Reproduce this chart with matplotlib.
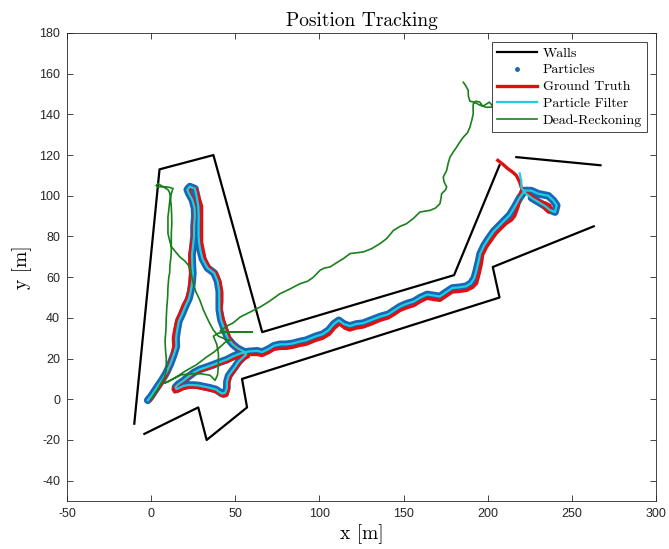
import matplotlib
matplotlib.use("Agg")
import matplotlib.pyplot as plt
from matplotlib.lines import Line2D

plt.rcParams['axes.unicode_minus'] = False

# ---------------- data ----------------
wall1_x = [-10, 5, 37, 66, 180, 207]
wall1_y = [-12, 113, 120, 33, 61, 115]
wall2_x = [-4, 28, 33, 57, 54, 207, 203, 263]
wall2_y = [-17, -4, -20, -4, 10, 50, 65, 85]
wall3_x = [217, 267]
wall3_y = [119, 115]

gt_x = [0, 1.5, 3, 5, 7, 9, 11, 12.5, 13.5, 13.2, 14, 15.3, 17, 19, 21, 22.5, 23, 23.5, 23, 23,
        24, 25, 25, 26, 26, 25, 23, 22, 24, 27, 28, 30, 30, 30, 30, 30, 31, 32, 35, 39,
        41, 42, 42, 41.5, 43, 45, 47, 50, 53, 56, 57.8,
        55, 53, 51, 49, 47, 46, 46, 45, 43, 39, 35, 31, 28, 25, 22, 19, 16, 14, 13,
        15, 18, 21, 25, 29, 33, 37, 41, 45, 49, 53, 58, 63, 66, 70, 73, 76.6, 80, 84, 88.5,
        92, 95, 98, 102, 106, 109, 112, 115, 118, 122, 126, 131, 136, 141, 145, 148, 152, 156, 160, 164,
        168, 171.6, 175, 179, 183, 187.5, 191, 193.4, 195, 196.3, 197, 199.3, 202, 205, 208, 211, 214, 216, 218, 219,
        220, 224, 228, 232, 234, 236, 237.5, 237, 234, 230, 226, 222, 220, 219, 217, 215, 212, 209, 206]
gt_y = [0, 2, 4, 6, 9, 12, 17, 21, 26, 30, 34, 38.8, 42, 46, 49, 53, 57, 62, 66, 71,
        76, 80, 85, 90, 94, 98, 101, 103, 104, 103, 100, 95, 90, 85.5, 81, 77, 73, 69, 64, 61.7,
        57.6, 52.7, 48, 44, 38.8, 34, 29, 26, 24, 22.5, 21,
        20, 18, 16, 13.5, 11, 8, 5, 2, 1.5, 3.6, 4.5, 5.2, 5.8, 6, 5.8, 5.2, 4, 3.6, 5,
        6.5, 8, 10, 12.6, 14, 15, 16, 17.5, 18.5, 20, 21, 22, 22, 21.5, 23, 24.5, 25, 25, 25.5, 26.5,
        27, 28, 29, 30, 32, 35, 37, 35, 34, 35, 35.5, 37, 38.8, 40, 42, 43.7, 45, 46, 48, 49.6,
        49, 48.6, 50.5, 52.7, 53, 53.5, 55, 57, 62, 66.8, 71, 74.8, 78, 81.5, 84, 86.4, 88, 90, 94.5, 99,
        102.6, 101, 98.6, 96.1, 93.7, 92, 93, 95.3, 96.5, 97.5, 99.5, 102, 104, 106.7, 110, 111.5, 113.3, 115.5, 117.4]

pf_x = [-2, 0, 2, 4, 6.5, 9, 11.5, 13.5, 15, 14.8, 15.5, 16.5, 18.5, 20.5, 22.5, 23.5, 24.3, 24.8, 24.5, 24.3,
        25, 25.5, 25.5, 26, 25.8, 24.5, 22.5, 21.5, 23, 26, 27, 28, 28.3, 28.2, 28.2, 28.5, 29.3, 30.5, 33.5, 37.5,
        39.5, 40.5, 40.5, 40.5, 41.5, 43.5, 45.5, 48.5, 51.5, 55, 56.5,
        54.5, 52, 50, 48, 46, 45, 45, 44, 42, 38.5, 35, 31, 28, 25, 22, 19, 16.5, 15, 14.5,
        16, 19, 22, 25.5, 29, 33, 37, 41, 45, 49, 53, 58, 63, 66, 70, 73, 76.6, 80, 84, 88,
        92, 95, 98, 102, 105.5, 108.5, 111.5, 114.5, 118, 122, 126, 131, 136, 141, 145, 148, 152, 156, 160, 164,
        168, 171.5, 175, 179, 183, 187, 190, 192, 193.2, 194.5, 195.5, 197.8, 200.5, 203.5, 207, 210, 213, 216, 219, 222,
        226, 230, 233, 236, 239, 241, 240, 237, 234, 230, 226, 222, 220, 220, 219]
pf_y = [-0.5, 1.5, 4, 6.5, 9.5, 13, 17.5, 22, 26, 30, 34, 38.5, 42, 46, 49.5, 53, 57, 62, 66, 71,
        76, 80, 85, 90, 94, 98, 101, 103, 104.5, 103.5, 100, 95, 90, 85.5, 81, 77, 73, 69, 64.5, 62,
        58, 53, 48, 44, 39, 34.5, 30, 27, 25, 23.5, 22,
        20.5, 18.5, 16, 13.8, 11.5, 8.5, 5.5, 3.2, 2.8, 4.8, 5.6, 6.3, 6.8, 7, 7, 6.5, 5.5, 5, 6,
        7.3, 9, 11, 13.2, 14.7, 15.8, 17, 18.3, 19.5, 21.2, 22.5, 23.5, 23.8, 23.2, 24.8, 26.3, 27, 27, 27.4, 28.3,
        29, 30, 31, 32, 34, 37, 38.8, 37, 36, 37, 37.4, 39, 40.6, 41.8, 44, 45.6, 47, 48, 50, 51.5,
        51, 50.5, 52.5, 54.7, 55, 55.5, 57, 59.5, 63, 67.5, 71.5, 75.5, 79, 82.5, 85.5, 88, 90.5, 94.5, 99, 102.6,
        102.5, 101, 100.5, 100, 97.7, 95.3, 92, 93, 95, 97, 99, 101.5, 104, 107, 111]

# particle cloud centres (particles shown along the filter estimate, not on the final tail)
particles_x = pf_x[:-4]
particles_y = pf_y[:-4]

dr_x = [0, 2, 4, 6, 8, 9, 9, 8.5, 8.3, 8.8, 9, 9.3, 9.8, 10, 10.5, 11, 11.2, 11.8, 12, 12,
        12, 12.3, 12.2, 12, 11.5, 11, 10, 7, 4, 3, 4, 7, 10, 13, 12, 11, 10.5, 10, 10, 10,
        11, 12, 14.5, 17, 20, 23, 24, 25, 26.5, 29, 31, 33, 35, 37, 40, 44, 47,
        44, 41, 37, 33, 27, 21, 15, 10, 8,
        13, 18, 25, 30, 35, 38, 39.5, 40, 40, 39, 37, 40, 45, 52, 60, 55, 48, 41,
        45, 48.7, 52.9, 58, 64.7, 70, 76.6, 82, 88.5, 93, 96.4, 100.4, 103, 106.3, 110, 114.2, 118.2, 122, 126.1, 131,
        136, 140, 144, 148, 151.8, 156, 159.7, 163, 165.7, 169, 171.6, 172.3, 172.6, 175, 175.6, 174, 173.6, 175.6, 176.5, 177.6,
        179.5, 181.5, 183.5, 185.5, 188, 189.4, 190.5, 191.4, 191.3, 191.4, 193, 195.4, 197, 199.4, 201, 203.4, 199, 195.5, 192, 189.4,
        188.5, 188.4, 187, 185.5]
dr_y = [0, 2.5, 5, 8, 11, 14, 20, 25, 29, 34, 40, 45, 50, 55, 60, 62, 66, 70, 74, 78,
        82, 86, 90, 94.5, 99, 101.5, 103, 104.5, 106, 105, 104.3, 104.5, 104.3, 103.6, 101, 97, 93, 89.6, 85, 81.5,
        78, 75, 72.5, 70, 68, 65, 61, 57, 53, 48.6, 44, 40.4, 37, 34, 31, 29.6, 29,
        28, 25.7, 23, 20.8, 17, 14.2, 11, 8.5, 8,
        10, 12, 12.6, 12.5, 11.8, 9.3, 12, 17, 22.4, 27, 31, 32.5, 33, 33, 33, 33, 33, 33.5,
        36, 37.5, 40.4, 42.5, 45.3, 48, 51.9, 54, 56.8, 58, 60, 63.4, 64.5, 65, 67, 69.1, 71.6, 72, 72.4, 74,
        76.5, 79, 83, 85, 86.3, 89, 92, 92.5, 92.8, 94, 96.1, 99, 101, 103, 104.3, 107, 109.2, 112.5, 116, 119,
        121.5, 123.9, 126.5, 128.8, 131, 133.7, 137, 140.3, 143, 145.2, 146.5, 146, 144, 145.2, 146, 143.6, 143.5, 144.5, 146, 146.5,
        149, 151.8, 154, 155.8]

x_ticks = [-50, 0, 50, 100, 150, 200, 250, 300]
y_ticks = [-40, -20, 0, 20, 40, 60, 80, 100, 120, 140, 160, 180]

# ---------------- style ----------------
c_wall = '#000000'
c_part = '#1a66b4'
c_gt = '#e01010'
c_pf = '#18d0e2'
c_dr = '#1a801a'
serif = 'cmr10'

fig = plt.figure(figsize=(6.69, 5.49), dpi=100)
ax = fig.add_axes([0.1001, 0.0874, 0.8805, 0.8525])

ax.plot(wall1_x, wall1_y, color=c_wall, lw=1.6)
ax.plot(wall2_x, wall2_y, color=c_wall, lw=1.6)
ax.plot(wall3_x, wall3_y, color=c_wall, lw=1.6)
ax.plot(particles_x, particles_y, color=c_part, lw=5.5, solid_capstyle='round',
        solid_joinstyle='round', marker='o', ms=3.2, mew=0)
ax.plot(gt_x, gt_y, color=c_gt, lw=2.4, solid_joinstyle='round')
ax.plot(pf_x, pf_y, color=c_pf, lw=1.6, solid_joinstyle='round')
ax.plot(dr_x, dr_y, color=c_dr, lw=1.2, solid_joinstyle='round')

ax.set_xlim(-50, 300)
ax.set_ylim(-50, 180)
ax.set_xticks(x_ticks)
ax.set_yticks(y_ticks)
ax.tick_params(direction='in', length=4, width=0.6, top=True, right=True,
               labelsize=9, colors='#262626', pad=5)
for lab in ax.get_xticklabels() + ax.get_yticklabels():
    lab.set_fontfamily('Liberation Sans')
for sp in ax.spines.values():
    sp.set_linewidth(0.6)
    sp.set_color('#262626')

ax.set_title('Position Tracking', fontfamily=serif, fontsize=14, pad=5)
ax.set_xlabel('x [m]', fontfamily=serif, fontsize=14, labelpad=3)
ax.set_ylabel('y [m]', fontfamily=serif, fontsize=14, labelpad=5)

handles = [
    Line2D([], [], color=c_wall, lw=1.6),
    Line2D([], [], color=c_part, ls='none', marker='.', ms=5),
    Line2D([], [], color=c_gt, lw=2.4),
    Line2D([], [], color=c_pf, lw=1.6),
    Line2D([], [], color=c_dr, lw=1.2),
]
labels = ['Walls', 'Particles', 'Ground Truth', 'Particle Filter', 'Dead-Reckoning']
leg = ax.legend(handles, labels, loc='upper right', prop={'family': serif, 'size': 10},
                fancybox=False, framealpha=1, edgecolor='#262626', borderaxespad=0.65,
                handlelength=2.9, handletextpad=0.4, labelspacing=0.3, borderpad=0.35)
leg.get_frame().set_linewidth(0.6)

fig.savefig('out.png', dpi=100)
